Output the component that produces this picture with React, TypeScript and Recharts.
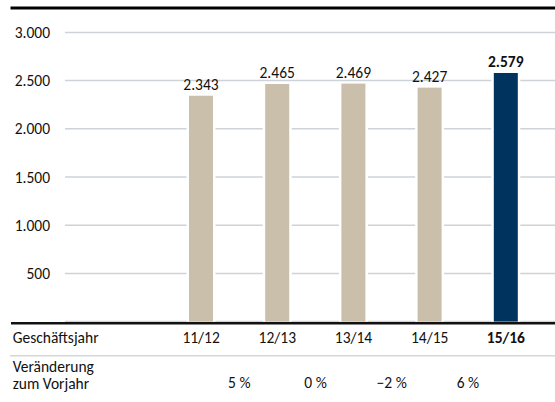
import { BarChart, Bar, XAxis, YAxis, CartesianGrid, LabelList, Cell } from 'recharts'

const years = ['11/12', '12/13', '13/14', '14/15', '15/16']
const revenue = [2343, 2465, 2469, 2427, 2579]
const changes = ['', '5 %', '0 %', '\u22122 %', '6 %']
const yTicks = [500, 1000, 1500, 2000, 2500, 3000]

const BEIGE = '#c9bfab'
const NAVY = '#00345f'
const TEXT = '#111'
const FONT = 'Carlito, Lato, sans-serif'
const FS = 15.5

const data = years.map((year, i) => ({ year, value: revenue[i], change: changes[i] }))
const lastIdx = years.length - 1

// german thousands separator
const fmt = (v: number) =>
  v >= 1000 ? `${Math.floor(v / 1000)}.${String(v % 1000).padStart(3, '0')}` : String(v)

// bar with a small white margin so the gridlines look cut around it
const GapBar = (props: any) => {
  const { x, y, width, height, fill } = props
  if (!height) return null
  return (
    <g>
      <rect x={x - 2.5} y={y} width={width + 5} height={height} fill="#fff" />
      <rect x={x} y={y} width={width} height={height} fill={fill} />
    </g>
  )
}

const YearTick = (props: any) => {
  const { x, y, payload } = props
  const bold = payload.index === lastIdx
  return (
    <text x={x} y={y + 21.5} textAnchor="middle" fill={TEXT} fontSize={FS} fontFamily={FONT} fontWeight={bold ? 700 : 400}>
      {payload.value}
    </text>
  )
}

const ChangeTick = (props: any) => {
  const { x, y, payload } = props
  return (
    <text x={x} y={y + 32.5} textAnchor="middle" fill={TEXT} fontSize={FS} fontFamily={FONT}>
      {changes[payload.index]}
    </text>
  )
}

const ValueLabel = (props: any) => {
  const { x, y, width, value, index } = props
  const bold = index === lastIdx || value === revenue[lastIdx]
  return (
    <text x={x + width / 2} y={y - 6} textAnchor="middle" fill={TEXT} fontSize={FS} fontFamily={FONT} fontWeight={bold ? 700 : 400}>
      {fmt(value)}
    </text>
  )
}

export default function App() {
  return (
    <div style={{ position: 'absolute', left: 0, top: 0, width: 555, height: 402, background: '#fff', fontFamily: FONT }}>
      <BarChart
        width={555}
        height={402}
        data={data}
        margin={{ top: 32.4, right: 0, left: 0, bottom: 0 }}
      >
        <CartesianGrid vertical={false} stroke="#cdd3d8" strokeWidth={1.5} />
        <YAxis
          domain={[0, 3000]}
          ticks={yTicks}
          width={65}
          axisLine={false}
          tickLine={false}
          tickSize={0}
          tickMargin={15}
          tickFormatter={fmt}
          tick={{ fill: TEXT, fontSize: FS, fontFamily: FONT }}
        />
        <XAxis
          dataKey="year"
          padding={{ left: 98, right: 11 }}
          axisLine={false}
          tickLine={false}
          tickSize={0}
          tickMargin={0}
          height={34}
          interval={0}
          tick={<YearTick />}
        />
        <XAxis
          xAxisId="chg"
          dataKey="year"
          padding={{ left: 60, right: 49 }}
          axisLine={false}
          tickLine={false}
          tickSize={0}
          tickMargin={0}
          height={46.4}
          interval={0}
          tick={<ChangeTick />}
        />
        <Bar dataKey="value" barSize={24} shape={<GapBar />} isAnimationActive={false}>
          {data.map((d, i) => (
            <Cell key={d.year} fill={i === lastIdx ? NAVY : BEIGE} />
          ))}
          <LabelList dataKey="value" content={<ValueLabel />} />
        </Bar>
      </BarChart>
      <svg width={555} height={402} style={{ position: 'absolute', left: 0, top: 0, pointerEvents: 'none' }}>
        <line x1={10.5} x2={555} y1={8} y2={8} stroke="#000" strokeWidth={3} />
        <line x1={11} x2={555} y1={323.3} y2={323.3} stroke="#111" strokeWidth={2.5} />
        <line x1={10} x2={555} y1={355.7} y2={355.7} stroke="#d3d8dc" strokeWidth={1.5} />
        <text x={12.7} y={343} fill={TEXT} fontSize={FS} fontFamily={FONT}>Geschäftsjahr</text>
        <text x={12.7} y={371.5} fill={TEXT} fontSize={FS} fontFamily={FONT}>Veränderung</text>
        <text x={12.7} y={389} fill={TEXT} fontSize={FS} fontFamily={FONT}>zum Vorjahr</text>
      </svg>
    </div>
  )
}
